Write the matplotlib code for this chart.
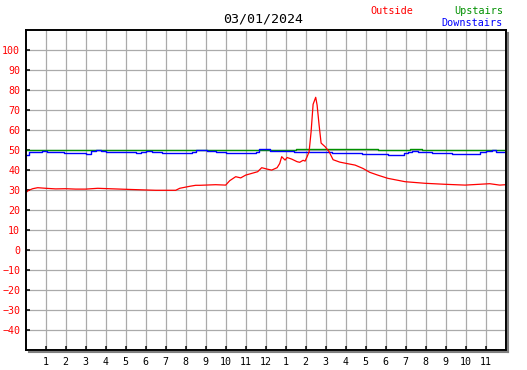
import matplotlib
matplotlib.use("Agg")
import matplotlib.pyplot as plt
from matplotlib.lines import Line2D

# Readings for 03/01/2024, hours since midnight
red_hours = [0, 0.15, 0.35, 0.6, 1.0, 1.5, 2.0, 2.5, 3.0, 3.6, 5.0, 6.5, 7.5, 7.7, 8.2,
             8.5, 8.7, 9.5, 10.0, 10.2, 10.5, 10.75, 11.0, 11.6, 11.8, 12.07, 12.3, 12.57,
             12.7, 12.8, 12.97, 13.07, 13.3, 13.57, 13.7, 13.87, 13.97, 14.07, 14.17,
             14.27, 14.37, 14.5, 14.57, 14.67, 14.77, 14.97, 15.17, 15.37, 15.7, 16.1,
             16.47, 16.87, 17.2, 17.6, 18.1, 18.97, 19.97, 20.97, 21.97, 23.2, 23.7, 24.0]
red_vals = [28.8, 30.0, 30.8, 31.3, 31.0, 30.7, 30.8, 30.6, 30.6, 31.0, 30.5, 30.0, 30.0,
            31.0, 32.0, 32.5, 32.5, 32.8, 32.6, 34.8, 36.8, 36.2, 37.6, 39.3, 41.3, 40.6,
            40.1, 41.3, 43.4, 46.8, 45.1, 46.4, 45.6, 44.3, 44.0, 45.0, 44.6, 46.8, 49.3,
            59.3, 73.0, 76.5, 72.6, 62.6, 53.6, 51.8, 49.3, 45.3, 44.1, 43.3, 42.6, 40.9,
            39.0, 37.6, 36.0, 34.3, 33.5, 33.0, 32.6, 33.3, 32.6, 32.8]

green_hours = [0, 13.5, 17.6, 19.2, 19.8, 24.0]
green_vals = [50.0, 50.5, 50.0, 50.7, 50.0, 50.0]

blue_hours = [0, 0.17, 0.83, 1.08, 1.92, 2.67, 3.0, 3.25, 3.5, 3.75, 4.0, 4.75, 5.5, 5.75,
              6.0, 6.3, 6.8, 8.3, 8.5, 9.05, 9.5, 10.0, 11.5, 11.65, 12.2, 13.4, 15.3,
              16.8, 18.1, 18.9, 19.1, 19.3, 19.6, 20.3, 21.3, 22.7, 23.0, 23.3, 23.5, 23.8,
              24.0]
blue_vals = [47.6, 49.0, 49.8, 49.3, 48.8, 48.5, 48.0, 49.8, 50.1, 49.8, 49.3, 49.0, 48.5,
             49.0, 49.8, 48.9, 48.5, 49.0, 50.0, 49.5, 49.0, 48.5, 49.3, 50.5, 49.6, 49.1,
             48.5, 48.0, 47.6, 48.5, 49.0, 49.6, 49.0, 48.5, 48.0, 49.0, 49.6, 50.1, 49.3,
             49.0, 49.0]

x_ticks = list(range(1, 24))
x_labels = [str(h) for h in range(1, 12)] + ["12"] + [str(h) for h in range(1, 12)]
y_ticks = list(range(-40, 101, 10))

W, H = 527, 370
fig = plt.figure(figsize=(W / 100, H / 100), dpi=100)
left, right, top, bottom = 25.7, 505.7, 30.3, 350.3
ax = fig.add_axes([left / W, 1 - bottom / H, (right - left) / W, (bottom - top) / H])

# drop shadow right and below the plot box
shadow = "#808080"
fig.add_artist(Line2D([(right + 2) / W, (right + 2) / W], [1 - (top + 3) / H, 1 - (bottom + 2) / H],
                      color=shadow, lw=1.5, transform=fig.transFigure))
fig.add_artist(Line2D([(left + 3) / W, (right + 2) / W], [1 - (bottom + 2) / H, 1 - (bottom + 2) / H],
                      color=shadow, lw=1.5, transform=fig.transFigure))

ax.plot(green_hours, green_vals, color="#009000", lw=1.0, drawstyle="steps-post")
ax.plot(blue_hours, blue_vals, color="#0000ff", lw=1.0, drawstyle="steps-post")
ax.plot(red_hours, red_vals, color="#ff0000", lw=0.9)

ax.set_xlim(0, 24)
ax.set_ylim(-50, 110)
ax.set_xticks(x_ticks)
ax.set_xticklabels(x_labels)
ax.set_yticks(y_ticks)
ax.grid(True, color="#aaaaaa", lw=0.9)
ax.set_axisbelow(True)

mono = "DejaVu Sans Mono"
ax.tick_params(axis="both", direction="in", length=3, width=1.1, color="black")
ax.tick_params(axis="y", labelcolor="#ff0000", labelsize=7.2, pad=4)
ax.tick_params(axis="x", labelcolor="black", labelsize=7.2, pad=5)
for lab in ax.get_xticklabels() + ax.get_yticklabels():
    lab.set_family(mono)
for s in ax.spines.values():
    s.set_linewidth(1.4)
    s.set_color("black")

fig.text(263 / W, 1 - 19 / H, "03/01/2024", ha="center", va="center",
         family=mono, fontsize=9.6, color="black")
fig.text(370 / W, 1 - 11 / H, "Outside", ha="left", va="center",
         family=mono, fontsize=7.3, color="#ff0000")
fig.text(503 / W, 1 - 11 / H, "Upstairs", ha="right", va="center",
         family=mono, fontsize=7.3, color="#009000")
fig.text(503 / W, 1 - 23 / H, "Downstairs", ha="right", va="center",
         family=mono, fontsize=7.3, color="#0000ff")

fig.savefig("out.png", dpi=100)
